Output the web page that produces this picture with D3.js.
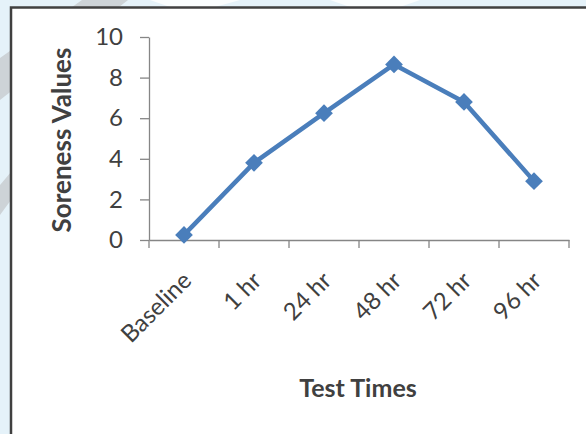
<!DOCTYPE html>
<html>
<head>
<meta charset="utf-8">
<script src="https://cdn.jsdelivr.net/npm/d3@7"></script>
<style>
  html, body { margin: 0; padding: 0; background: #fff; }
  svg { display: block; }
  text { font-family: Lato, "Open Sans", sans-serif; }
</style>
</head>
<body>
<svg id="chart" width="586" height="434"></svg>
<script>
// Muscle soreness rating at each test time
const categories = ["Baseline", "1 hr", "24 hr", "48 hr", "72 hr", "96 hr"];
const soreness = [0.25, 3.8, 6.25, 8.65, 6.8, 2.9];
const yTicks = [0, 2, 4, 6, 8, 10];
const xTitle = "Test Times";
const yTitle = "Soreness Values";

const W = 586, H = 434;
const svg = d3.select("#chart");

// page backdrop around the chart frame
svg.append("rect").attr("width", W).attr("height", H).attr("fill", "#e5f2f9");
svg.append("polygon")
  .attr("points", "82,0 128,0 0,100 0,58")
  .attr("fill", "#cdd3d7");
svg.append("polygon")
  .attr("points", "150,0 240,0 215,7 170,7")
  .attr("fill", "#ffffff").attr("opacity", 0.8);
svg.append("polygon")
  .attr("points", "330,0 420,0 400,7 350,7")
  .attr("fill", "#ffffff").attr("opacity", 0.8);
svg.append("polygon")
  .attr("points", "0,185 11,172 11,200 0,215")
  .attr("fill", "#cdd3d7");

// chart frame
svg.append("rect")
  .attr("x", 11).attr("y", 7.5)
  .attr("width", 620).attr("height", 460)
  .attr("fill", "#ffffff")
  .attr("stroke", "#404040").attr("stroke-width", 2.5);

const plot = { left: 149, right: 569, top: 37, bottom: 240 };

const x = d3.scaleBand().domain(categories).range([plot.left, plot.right]);
const y = d3.scaleLinear().domain([0, 10]).range([plot.bottom, plot.top]);

// y axis
const yAxis = svg.append("g")
  .attr("transform", `translate(${plot.left},0)`)
  .call(d3.axisLeft(y).tickValues(yTicks).tickSize(9).tickPadding(17).tickSizeOuter(0));
yAxis.select(".domain").attr("stroke", "#868686").attr("stroke-width", 1.3);
yAxis.selectAll(".tick line").attr("stroke", "#868686").attr("stroke-width", 1.3);
yAxis.selectAll(".tick text")
  .attr("fill", "#404040").style("font-size", "24px").style("font-family", "Lato, sans-serif");

// x axis: line plus ticks on category boundaries
const xAxis = svg.append("g")
  .attr("transform", `translate(0,${plot.bottom})`)
  .call(d3.axisBottom(x).tickSize(0).tickSizeOuter(0).tickFormat(""));
xAxis.select(".domain").attr("stroke", "#868686").attr("stroke-width", 1.3);
xAxis.selectAll(".tick").remove();

const bounds = categories.map(c => x(c)).concat([x.range()[1]]);
svg.append("g").selectAll("line")
  .data(bounds)
  .join("line")
  .attr("x1", d => d).attr("x2", d => d)
  .attr("y1", plot.bottom).attr("y2", plot.bottom + 8)
  .attr("stroke", "#868686").attr("stroke-width", 1.3);

// rotated category labels
svg.append("g").selectAll("text")
  .data(categories)
  .join("text")
  .attr("text-anchor", "end")
  .attr("transform", d => `translate(${x(d) + x.bandwidth() / 2 + 9},${plot.bottom + 42}) rotate(-45)`)
  .attr("fill", "#404040")
  .style("font-size", "24px")
  .text(d => d);

// axis titles
svg.append("text")
  .attr("x", 358).attr("y", 397)
  .attr("text-anchor", "middle")
  .attr("fill", "#404040")
  .style("font-size", "25px").style("font-weight", "bold")
  .text(xTitle);

svg.append("text")
  .attr("transform", "translate(71,140) rotate(-90)")
  .attr("text-anchor", "middle")
  .attr("fill", "#404040")
  .style("font-size", "26px").style("font-weight", "bold")
  .text(yTitle);

// series line and diamond markers
const cx = d => x(d) + x.bandwidth() / 2;
const pts = categories.map((c, i) => [cx(c), y(soreness[i])]);

svg.append("path")
  .datum(pts)
  .attr("d", d3.line())
  .attr("fill", "none")
  .attr("stroke", "#4a7ebb")
  .attr("stroke-width", 4.5)
  .attr("stroke-linejoin", "round");

svg.append("g").selectAll("path")
  .data(pts)
  .join("path")
  .attr("transform", d => `translate(${d[0]},${d[1]})`)
  .attr("d", d3.symbol(d3.symbolDiamond2, 200))
  .attr("fill", "#4a7ebb");
</script>
</body>
</html>
